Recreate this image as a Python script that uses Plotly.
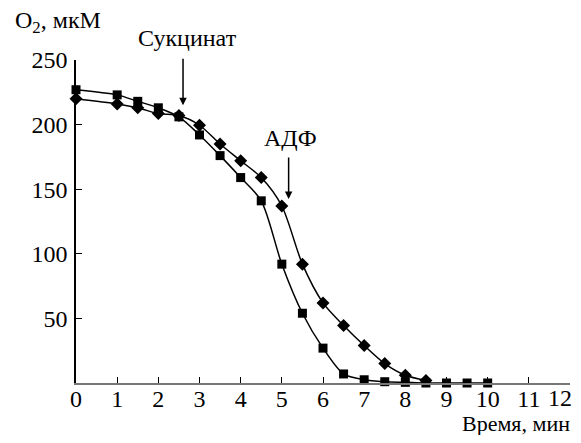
import plotly.graph_objects as go

# Data
x_sq = [0, 1, 1.5, 2, 2.5, 3, 3.5, 4, 4.5, 5, 5.5, 6, 6.5, 7, 7.5, 8, 8.5, 9, 9.5, 10]
y_sq = [227, 223, 218, 213, 206, 192, 176, 159, 141, 92, 54, 27, 7, 2.5, 1, 0.5, 0, 0, 0, 0]
x_di = [0, 1, 1.5, 2, 2.5, 3, 3.5, 4, 4.5, 5, 5.5, 6, 6.5, 7, 7.5, 8, 8.5]
y_di = [220, 216, 213, 208.5, 207, 199.5, 185, 172, 159, 137, 92, 62, 44.5, 29, 15, 6, 2]

x_ticks = list(range(0, 13))
x_ticktext = [str(v) for v in x_ticks[:-1]] + [""]  # last label drawn as annotation to stay inside the page
y_ticks = [50, 100, 150, 200, 250]

FONT = "Liberation Serif, Times New Roman, serif"

fig = go.Figure()
fig.add_trace(go.Scatter(
    x=x_sq, y=y_sq, mode="lines+markers",
    line=dict(color="black", width=1.5, shape="spline", smoothing=0.8),
    marker=dict(symbol="square", size=9, color="black"),
    cliponaxis=False, showlegend=False))
fig.add_trace(go.Scatter(
    x=x_di, y=y_di, mode="lines+markers",
    line=dict(color="black", width=1.5, shape="spline", smoothing=0.8),
    marker=dict(symbol="diamond", size=10, color="black"),
    cliponaxis=False, showlegend=False))

fig.update_layout(
    width=573, height=427,
    margin=dict(l=67.5, r=11.4, t=52, b=51.5, autoexpand=False),
    paper_bgcolor="white", plot_bgcolor="white",
    font=dict(family=FONT, size=24, color="black"),
    xaxis=dict(range=[0, 12], tickvals=x_ticks, ticktext=x_ticktext,
               ticks="inside", ticklen=6, tickcolor="black", tickwidth=1,
               showline=True, linecolor="#777777", linewidth=2, automargin=False,
               showgrid=False, zeroline=False, ticklabeloverflow="allow",
               ticklabelstandoff=-7),
    yaxis=dict(range=[0, 250], tickvals=y_ticks, ticktext=[str(v) for v in y_ticks],
               ticks="inside", ticklen=6, tickcolor="black", tickwidth=1,
               showline=True, linecolor="black", linewidth=1.5, automargin=False,
               showgrid=False, zeroline=False, ticklabelstandoff=2),
    annotations=[
        dict(x=2.6, y=215, xref="x", yref="y", ax=0, ay=-48, text="",
             showarrow=True, arrowhead=2, arrowsize=1, arrowwidth=1.5, arrowcolor="black"),
        dict(x=0.2257, y=1.068, xref="paper", yref="paper", text="Сукцинат", showarrow=False,
             xanchor="center", yanchor="middle"),
        dict(x=5.165, y=142.4, xref="x", yref="y", ax=0, ay=-43, text="",
             showarrow=True, arrowhead=2, arrowsize=1, arrowwidth=1.5, arrowcolor="black"),
        dict(x=5.2, y=189.4, xref="x", yref="y", text="АДФ", showarrow=False,
             xanchor="center", yanchor="middle"),
        dict(x=0.9806, y=-0.047, xref="paper", yref="paper", text=str(x_ticks[-1]),
             showarrow=False, xanchor="center", yanchor="middle"),
        dict(x=1.0049, y=-0.124, xref="paper", yref="paper", text="Время, мин",
             font=dict(size=22), showarrow=False, xanchor="right", yanchor="middle"),
        dict(x=-0.1285, y=1.117, xref="paper", yref="paper", text="O<sub>2</sub>, мкМ",
             showarrow=False, xanchor="left", yanchor="middle"),
    ],
)

fig.write_html("out.html")
